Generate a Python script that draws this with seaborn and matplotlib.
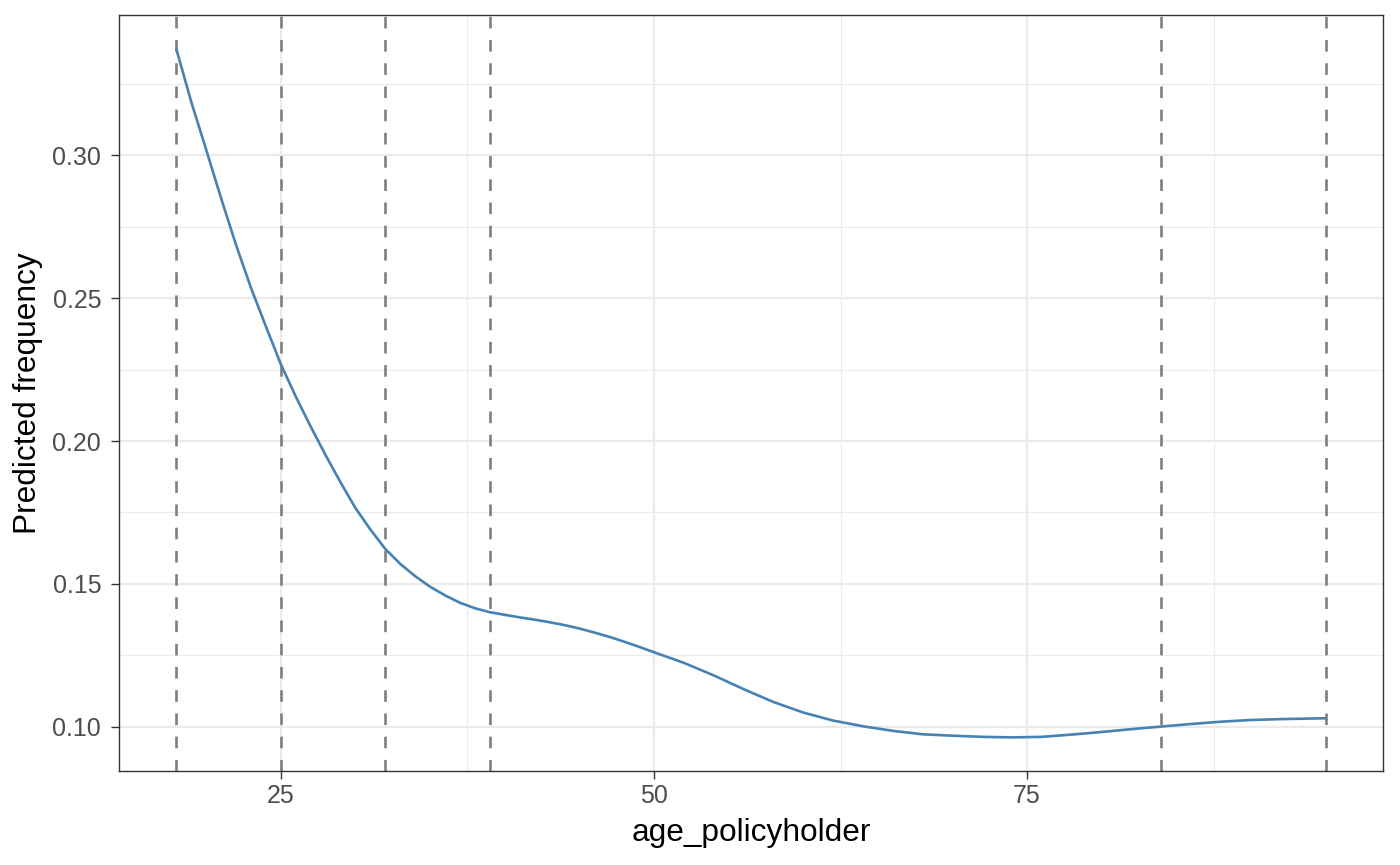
import matplotlib
matplotlib.use("Agg")
import matplotlib.pyplot as plt
from matplotlib.ticker import FixedLocator
import seaborn as sns
import pandas as pd

ages = [18, 19, 20, 21, 22, 23, 24, 25, 26, 27, 28, 29, 30, 31, 32, 33, 34, 35,
        36, 37, 38, 39, 40, 41, 42, 43, 44, 45, 46, 47, 48, 49, 50, 52, 54, 56,
        58, 60, 62, 64, 66, 68, 70, 72, 74, 76, 78, 80, 82, 84, 86, 88, 90, 92,
        94, 95]
pred_freq = [0.3370, 0.3185, 0.3018, 0.2848, 0.2685, 0.2535, 0.2400, 0.2268,
             0.2155, 0.2050, 0.1950, 0.1855, 0.1765, 0.1690, 0.1622, 0.1570,
             0.1527, 0.1490, 0.1460, 0.1434, 0.1415, 0.1401, 0.1392, 0.1383,
             0.1375, 0.1366, 0.1356, 0.1344, 0.1330, 0.1315, 0.1298, 0.1280,
             0.1261, 0.1224, 0.1180, 0.1132, 0.1087, 0.1050, 0.1022, 0.1002,
             0.0986, 0.0974, 0.0969, 0.0965, 0.0963, 0.0965, 0.0973, 0.0982,
             0.0992, 0.1001, 0.1010, 0.1018, 0.1024, 0.1027, 0.1029, 0.1030]
knots = [18, 25, 32, 39, 84, 95]
x_ticks = [25, 50, 75]
x_minor = [37.5, 62.5, 87.5]
y_ticks = [0.10, 0.15, 0.20, 0.25, 0.30]
y_minor = [0.125, 0.175, 0.225, 0.275, 0.325]
y_tick_labels = ["0.10", "0.15", "0.20", "0.25", "0.30"]

df = pd.DataFrame({"age_policyholder": ages, "pred": pred_freq})

sns.set_theme(style="white")
plt.rcParams["font.family"] = ["Liberation Sans", "DejaVu Sans"]

fig = plt.figure(figsize=(14, 8.65), dpi=100)
ax = fig.add_axes([119/1400, 1 - 771/865, (1383 - 119)/1400, (771 - 15)/865])

grid_col = "#EBEBEB"
ax.set_xlim(14.15, 98.85)
ax.set_ylim(0.08455, 0.34905)
ax.xaxis.set_major_locator(FixedLocator(x_ticks))
ax.xaxis.set_minor_locator(FixedLocator(x_minor))
ax.yaxis.set_major_locator(FixedLocator(y_ticks))
ax.yaxis.set_minor_locator(FixedLocator(y_minor))
ax.set_yticklabels(y_tick_labels)
ax.grid(which="major", color=grid_col, linewidth=1.6, zorder=0)
ax.grid(which="minor", color=grid_col, linewidth=0.8, zorder=0)
ax.set_axisbelow(True)

for k in knots:
    ax.axvline(k, color="#7F7F7F", linewidth=1.9, linestyle=(0, (4.4, 4.4)), zorder=2)

sns.lineplot(data=df, x="age_policyholder", y="pred", ax=ax, color="#4682B4",
             linewidth=1.9, zorder=3)

for s in ax.spines.values():
    s.set_color("#333333")
    s.set_linewidth(1.0)

ax.tick_params(axis="both", which="major", length=5.8, width=1.0, color="#333333",
               labelcolor="#4D4D4D", labelsize=18)
ax.tick_params(axis="x", which="major", pad=3.5, bottom=True)
ax.tick_params(axis="y", which="major", pad=7, left=True)
ax.tick_params(which="minor", length=0)

ax.set_xlabel("age_policyholder", fontsize=22.8, color="black", labelpad=7)
ax.set_ylabel("Predicted frequency", fontsize=22.8, color="black", labelpad=7)

fig.savefig("out.png", dpi=100, facecolor="white")
